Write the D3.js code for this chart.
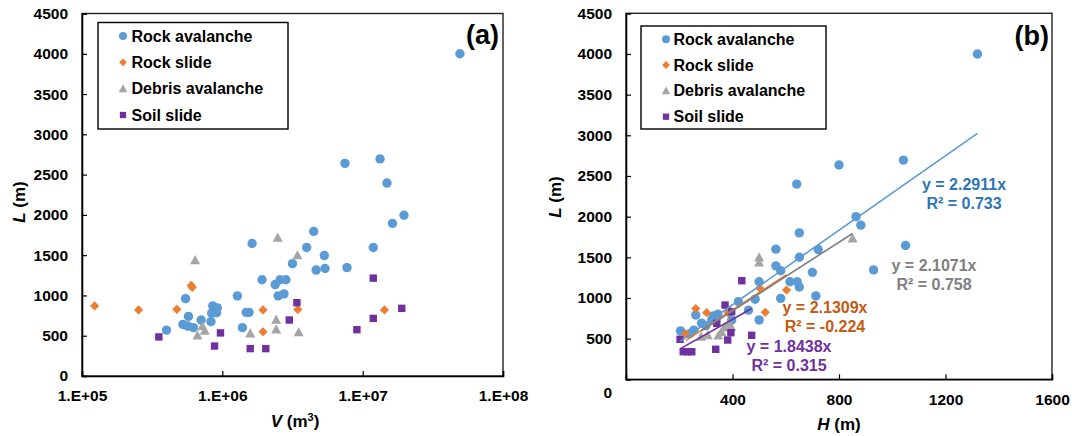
<!DOCTYPE html>
<html>
<head>
<meta charset="utf-8">
<script src="https://cdn.jsdelivr.net/npm/d3@7"></script>
<style>
  html, body { margin: 0; padding: 0; background: #fff; }
  svg { display: block; font-family: "Liberation Sans", Arial, sans-serif; font-weight: bold; }
</style>
</head>
<body>
<svg id="chart" width="1072" height="436"></svg>
<script>
// ---------- DATA ----------
const seriesNames = ["Rock avalanche", "Rock slide", "Debris avalanche", "Soil slide"];
const seriesColors = ["#5B9BD5", "#ED7D31", "#A5A5A5", "#7030A0"];
const trendColors = ["#5B9BD5", "#ED7D31", "#7F7F7F", "#7030A0"];
const labelColors = ["#2E75B6", "#C55A11", "#808080", "#7030A0"];

// Panel (a): volume V (m3) vs runout L (m)
const rockAvalancheV = [4.0e5, 5.24e5, 5.47e5, 5.68e5, 5.74e5, 6.22e5, 7.06e5, 8.3e5, 8.4e5, 8.55e5, 9.1e5, 9.2e5,
  1.28e6, 1.39e6, 1.48e6, 1.55e6, 1.63e6, 1.92e6, 2.38e6, 2.5e6, 2.58e6, 2.75e6, 2.84e6, 3.16e6, 3.99e6, 4.48e6,
  4.66e6, 5.33e6, 5.39e6, 7.48e6, 7.73e6, 1.19e7, 1.33e7, 1.49e7, 1.63e7, 1.97e7, 4.93e7];
const rockAvalancheLa = [570, 640, 960, 620, 740, 600, 695, 675, 780, 870, 785, 845,
  995, 600, 790, 790, 1645, 1195, 1135, 995, 1195, 1020, 1195, 1395, 1595, 1795,
  1315, 1495, 1335, 2640, 1345, 1595, 2695, 2395, 1895, 1995, 4000];
const rockSlideV = [1.23e5, 2.53e5, 4.74e5, 6.0e5, 6.1e5, 1.95e6, 1.95e6, 3.45e6, 1.43e7];
const rockSlideLa = [870, 820, 828, 1125, 1100, 820, 548, 825, 820];
const debrisAvalancheV = [6.4e5, 6.65e5, 7.2e5, 7.5e5, 1.58e6, 2.42e6, 2.42e6, 2.48e6, 3.43e6, 3.5e6];
const debrisAvalancheLa = [1440, 505, 620, 565, 530, 700, 580, 1720, 1500, 545];
const soilSlideV = [3.53e5, 8.8e5, 9.7e5, 1.58e6, 2.04e6, 3.0e6, 3.4e6, 9.1e6, 1.19e7, 1.19e7, 1.9e7];
const soilSlideLa = [485, 372, 535, 340, 340, 695, 910, 575, 1215, 715, 840];

// Panel (b): drop height H (m) vs runout L (m)
const rockAvalancheH = [205, 240, 255, 262, 284, 300, 322, 328, 341, 345, 388, 397, 422, 460, 485, 500, 500,
  563, 563, 581, 581, 616, 643, 651, 641, 651, 651, 700, 713, 722, 800, 864, 882, 930, 1042, 1050, 1320];
const rockAvalancheLb = [595, 560, 605, 790, 690, 660, 730, 780, 765, 800, 830, 730, 955, 850, 985, 730, 1200,
  1600, 1395, 1335, 995, 1200, 1200, 1135, 2400, 1800, 1500, 1315, 1025, 1595, 2635, 2000, 1895, 1345, 2695, 1645, 4000];
const rockSlideH = [225, 262, 303, 384, 503, 523, 603];
const rockSlideLb = [557, 869, 819, 815, 1119, 824, 1098];
const debrisAvalancheH = [282, 307, 347, 358, 370, 385, 395, 500, 500, 851];
const debrisAvalancheLb = [525, 545, 540, 585, 640, 690, 650, 1500, 1440, 1735];
const soilSlideH = [203, 215, 232, 247, 337, 341, 372, 382, 394, 397, 435, 472];
const soilSlideLb = [492, 339, 339, 339, 369, 688, 913, 483, 573, 831, 1212, 541];

// Linear trendlines through origin (panel b)
const trendSlopes = [2.2911, 2.1309, 2.1071, 1.8438];
const trendR2 = ["0.733", "-0.224", "0.758", "0.315"];

// Tick values
const yTicks = [0, 500, 1000, 1500, 2000, 2500, 3000, 3500, 4000, 4500];
const xTicksA = [1e5, 1e6, 1e7, 1e8];
const xTickLabelsA = ["1.E+05", "1.E+06", "1.E+07", "1.E+08"];
const xTicksB = [400, 800, 1200, 1600];

// ---------- DRAW ----------
const svg = d3.select("#chart");
svg.append("rect").attr("width", 1072).attr("height", 436).attr("fill", "#fff");

function markerPath(i, s) {
  if (i === 0) return d3.symbol(d3.symbolCircle, Math.PI * (4.7 * s) * (4.7 * s))();
  if (i === 1) { const a = 4.6 * s; return `M0,${-a}L${a},0L0,${a}L${-a},0Z`; }
  if (i === 2) { const w = 5 * s, h = 4.6 * s; return `M0,${-h - 0.4 * s}L${w},${h - 0.4 * s}L${-w},${h - 0.4 * s}Z`; }
  const q = 3.7 * s; return `M${-q},${-q}H${q}V${q}H${-q}Z`;
}

function frame(g, x0, x1, y0, y1) {
  g.append("rect").attr("x", x0).attr("y", y1).attr("width", x1 - x0).attr("height", y0 - y1)
    .attr("fill", "none").attr("stroke", "#222").attr("stroke-width", 1.4);
}

function drawPanel(opts) {
  const g = svg.append("g");
  const { x, y, series, tag } = opts;
  const [x0, x1] = x.range();
  const [y0, y1] = y.range();
  frame(g, x0, x1, y0, y1);

  const yAxis = d3.axisLeft(y).tickValues(yTicks).tickSize(-5).tickPadding(opts.yPad).tickFormat(d3.format("d"));
  const ya = g.append("g").attr("transform", `translate(${x0},0)`).call(yAxis);
  ya.select(".domain").attr("stroke", "#000").attr("stroke-width", 1.6);
  ya.selectAll(".tick line").attr("stroke", "#000").attr("stroke-width", 1.2);
  ya.selectAll(".tick text").attr("font-size", 15.5).attr("font-weight", "bold")
    .attr("font-family", "Liberation Sans, Arial, sans-serif").attr("fill", "#000");
  if (opts.zeroShift) {
    ya.selectAll(".tick").filter(d => d === 0).select("text").attr("dy", opts.zeroShift);
  }

  const xAxis = d3.axisBottom(x).tickValues(opts.xTicks).tickSize(-5).tickPadding(opts.xPad)
    .tickFormat((d, i) => opts.xLabels ? opts.xLabels[i] : d3.format("d")(d));
  const xa = g.append("g").attr("transform", `translate(0,${y0})`).call(xAxis);
  xa.select(".domain").attr("stroke", "#000").attr("stroke-width", 1.6);
  xa.selectAll(".tick line").attr("stroke", "#000").attr("stroke-width", 1.2);
  xa.selectAll(".tick text").attr("font-size", 15.5).attr("font-weight", "bold")
    .attr("font-family", "Liberation Sans, Arial, sans-serif").attr("fill", "#000");

  series.forEach((s, i) => {
    g.append("g").selectAll("path").data(s.xs.map((v, k) => [v, s.ys[k]])).join("path")
      .attr("d", markerPath(i, 1))
      .attr("transform", d => `translate(${x(d[0])},${y(d[1])})`)
      .attr("fill", seriesColors[i]);
  });

  if (opts.trend) {
    series.forEach((s, i) => {
      const [mn, mx] = d3.extent(s.xs);
      g.append("line")
        .attr("x1", x(mn)).attr("y1", y(trendSlopes[i] * mn))
        .attr("x2", x(mx)).attr("y2", y(trendSlopes[i] * mx))
        .attr("stroke", trendColors[i]).attr("stroke-width", 1.6);
    });
    opts.trendLabels.forEach((p, i) => {
      const t = g.append("text").attr("x", p[0]).attr("y", p[1]).attr("text-anchor", "middle")
        .attr("font-size", 16).attr("fill", labelColors[i]);
      t.append("tspan").attr("x", p[0]).attr("dy", 0).text(`y = ${trendSlopes[i].toFixed(4)}x`);
      t.append("tspan").attr("x", p[0]).attr("dy", 18.5).text(`R² = ${trendR2[i]}`);
    });
  }

  const L = opts.legend;
  g.append("rect").attr("x", L.x).attr("y", L.y).attr("width", L.w).attr("height", L.h)
    .attr("fill", "#fff").attr("stroke", "#000").attr("stroke-width", 1.4);
  seriesNames.forEach((n, i) => {
    const cy = L.rows[i];
    g.append("path").attr("d", markerPath(i, 0.85)).attr("transform", `translate(${L.mx},${cy})`)
      .attr("fill", seriesColors[i]);
    g.append("text").attr("x", L.tx).attr("y", cy).attr("dy", "0.36em").attr("font-size", 16)
      .attr("fill", "#000").text(n);
  });

  g.append("text").attr("x", tag[0]).attr("y", tag[1]).attr("text-anchor", "end")
    .attr("font-size", 27).attr("fill", "#000").text(opts.tagText);

  const xt = g.append("text").attr("x", opts.xTitle[0]).attr("y", opts.xTitle[1]).attr("text-anchor", "middle")
    .attr("font-size", 17).attr("fill", "#000");
  xt.append("tspan").attr("font-style", "italic").text(opts.xTitleVar);
  xt.append("tspan").text(" (m");
  if (opts.cube) {
    xt.append("tspan").attr("font-size", 11).attr("dy", -6).text("3");
    xt.append("tspan").attr("dy", 6).text(")");
  } else {
    xt.append("tspan").text(")");
  }
  const yt = g.append("text").attr("transform", `translate(${opts.yTitle[0]},${opts.yTitle[1]}) rotate(-90)`)
    .attr("text-anchor", "middle").attr("font-size", 17).attr("fill", "#000");
  yt.append("tspan").attr("font-style", "italic").text("L");
  yt.append("tspan").text(" (m)");
}

// Panel (a)
drawPanel({
  x: d3.scaleLog().domain([1e5, 1e8]).range([82, 503]),
  y: d3.scaleLinear().domain([0, 4500]).range([376, 13.5]),
  series: [
    { xs: rockAvalancheV, ys: rockAvalancheLa },
    { xs: rockSlideV, ys: rockSlideLa },
    { xs: debrisAvalancheV, ys: debrisAvalancheLa },
    { xs: soilSlideV, ys: soilSlideLa }
  ],
  xTicks: xTicksA, xLabels: xTickLabelsA, yPad: 14, xPad: 14,
  legend: { x: 98, y: 22.5, w: 190, h: 106.5, mx: 123, tx: 131.5, rows: [36, 62.3, 88.6, 115] },
  tag: [499, 44], tagText: "(a)",
  xTitle: [295, 427], xTitleVar: "V", cube: true,
  yTitle: [25, 202]
});

// Panel (b)
drawPanel({
  x: d3.scaleLinear().domain([0, 1600]).range([626, 1052]),
  y: d3.scaleLinear().domain([0, 4500]).range([379.3, 13.3]),
  series: [
    { xs: rockAvalancheH, ys: rockAvalancheLb },
    { xs: rockSlideH, ys: rockSlideLb },
    { xs: debrisAvalancheH, ys: debrisAvalancheLb },
    { xs: soilSlideH, ys: soilSlideLb }
  ],
  xTicks: xTicksB, yPad: 14, xPad: 15, zeroShift: "1.15em",
  trend: true,
  trendLabels: [[964, 190], [825, 313], [934, 271], [789, 352]],
  legend: { x: 641, y: 26, w: 185, h: 103, mx: 666, tx: 673.5, rows: [39.3, 65, 90.7, 116.7] },
  tag: [1049, 45], tagText: "(b)",
  xTitle: [839, 430], xTitleVar: "H", cube: false,
  yTitle: [561, 197]
});
</script>
</body>
</html>
